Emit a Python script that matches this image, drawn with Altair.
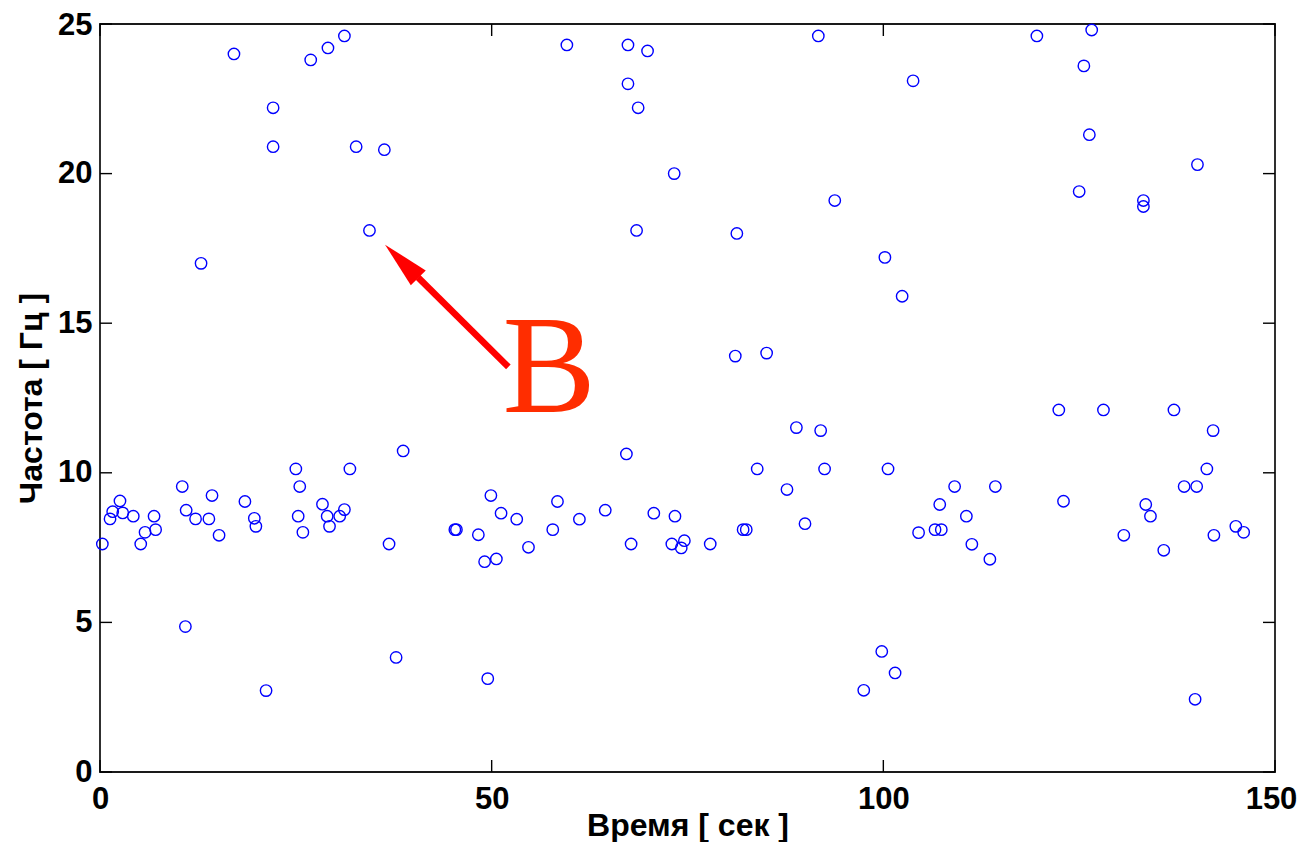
import altair as alt
import pandas as pd

# Scatter data (time in seconds, frequency in Hz)
time_s = [
    17.1, 26.9, 29.1, 31.2, 22.1, 22.1, 32.7, 36.3, 34.4, 12.9,
    59.6, 67.4, 69.9, 67.4, 68.7, 73.3, 91.7, 93.8, 68.5, 81.3,
    119.6, 126.6, 103.8, 125.6, 126.3, 140.1, 125.0, 133.2, 133.2, 100.2,
    102.4, 81.1, 85.1,
    38.7, 25.0, 31.9, 10.5, 25.5, 14.3, 18.5, 2.55, 28.4, 1.62,
    2.9, 1.28, 4.25, 6.9, 11.0, 12.2, 13.9, 19.7, 19.9, 25.3,
    29.0, 31.2, 30.6, 29.3, 25.9, 7.1, 5.75, 15.2, 0.3, 5.2,
    36.9, 45.3, 45.5, 48.3, 49.1, 49.9, 10.9, 37.8, 21.2, 49.5,
    67.2, 88.9, 92.0, 83.9, 92.5, 87.7, 51.2, 53.2, 58.4, 57.8,
    61.2, 64.5, 70.7, 73.4, 90.0, 54.7, 67.8, 73.0, 74.6, 74.2,
    77.9, 82.1, 82.5, 50.6, 97.5, 99.8,
    100.6, 109.1, 114.3, 107.2, 110.6, 104.5, 106.6, 107.4, 111.3, 113.6,
    122.4, 128.1, 137.1, 142.1, 141.3, 138.4, 140.0, 123.0, 133.5, 134.1,
    130.7, 135.8, 142.2, 145.0, 146.0, 101.5, 139.8,
]
freq_hz = [
    24.0, 23.8, 24.2, 24.6, 22.2, 20.9, 20.9, 20.8, 18.1, 17.0,
    24.3, 24.3, 24.1, 23.0, 22.2, 20.0, 24.6, 19.1, 18.1, 18.0,
    24.6, 24.8, 23.1, 23.6, 21.3, 20.3, 19.4, 19.1, 18.9, 17.2,
    15.9, 13.9, 14.0,
    10.73, 10.13, 10.13, 9.54, 9.54, 9.24, 9.04, 9.06, 8.95, 8.70,
    8.66, 8.46, 8.55, 8.55, 8.75, 8.46, 8.46, 8.48, 8.21, 8.55,
    8.55, 8.77, 8.55, 8.21, 8.01, 8.10, 8.01, 7.91, 7.62, 7.62,
    7.62, 8.10, 8.10, 7.93, 7.03, 9.24, 4.86, 3.83, 2.72, 3.12,
    10.63, 11.51, 11.41, 10.13, 10.13, 9.44, 8.65, 8.45, 9.04, 8.10,
    8.45, 8.75, 8.65, 8.55, 8.30, 7.51, 7.62, 7.62, 7.73, 7.49,
    7.62, 8.10, 8.10, 7.12, 2.73, 4.03,
    10.13, 9.54, 9.54, 8.94, 8.55, 8.00, 8.10, 8.10, 7.61, 7.11,
    12.10, 12.10, 12.10, 11.41, 10.13, 9.54, 9.54, 9.05, 8.94, 8.55,
    7.91, 7.41, 7.91, 8.21, 8.01, 3.31, 2.43,
]

x_ticks = [0, 50, 100, 150]
y_ticks = [0, 5, 10, 15, 20, 25]

# Annotation "B" with an arrow (data coordinates)
arrow_x = [52.13, 40.6]
arrow_y = [13.54, 16.53]
arrow_head_x = [38.51]
arrow_head_y = [17.07]
label_text = ["B"]
label_x = [57.34]
label_y = [12.02]

W, H = 1175, 748
TICK = 12

df = pd.DataFrame({"t": time_s, "f": freq_hz})
xs = alt.Scale(domain=[0, 150], nice=False, zero=False)
ys = alt.Scale(domain=[0, 25], nice=False, zero=False)
x_axis = alt.Axis(
    values=x_ticks, title="Время [ сек ]", labelFlush=False,
    labelPadding=12, titleBaseline="alphabetic", titleY=63,
    labelOffset={"condition": {"test": "datum.value === 150", "value": -4}, "value": 0},
)
y_axis = alt.Axis(
    values=y_ticks, title="Частота [ Гц ]", labelFlush=False,
    labelPadding=8, titlePadding=9,
    labelOffset={"condition": {"test": "datum.value === 25", "value": 1.5}, "value": 0},
)


def X(field):
    return alt.X(field, scale=xs, axis=x_axis)


def Y(field):
    return alt.Y(field, scale=ys, axis=y_axis)


points = alt.Chart(df).mark_point(
    shape="circle", filled=False, color="#0000FF", size=130, strokeWidth=1.4, opacity=1
).encode(x=X("t:Q"), y=Y("f:Q"))

xt = pd.DataFrame({"t": x_ticks})
yt = pd.DataFrame({"f": y_ticks})
tick_style = dict(color="black", strokeWidth=1.4)

x_bottom = alt.Chart(xt).mark_rule(**tick_style).encode(
    x=X("t:Q"), y=alt.value(H), y2=alt.value(H - TICK))
x_top = alt.Chart(xt).mark_rule(**tick_style).encode(
    x=X("t:Q"), y=alt.value(0), y2=alt.value(TICK))
y_left = alt.Chart(yt).mark_rule(**tick_style).encode(
    y=Y("f:Q"), x=alt.value(0), x2=alt.value(TICK))
y_right = alt.Chart(yt).mark_rule(**tick_style).encode(
    y=Y("f:Q"), x=alt.value(W), x2=alt.value(W - TICK))

arrow_line = alt.Chart(pd.DataFrame({"t": arrow_x, "f": arrow_y})).mark_line(
    color="#FF0000", strokeWidth=6.5, strokeCap="butt"
).encode(x=X("t:Q"), y=Y("f:Q"))

arrow_head = alt.Chart(pd.DataFrame({"t": arrow_head_x, "f": arrow_head_y})).mark_point(
    shape="M0,-1L0.45,1L-0.45,1Z", filled=True, color="#FF0000", opacity=1,
    size=2209, angle=315, strokeWidth=0
).encode(x=X("t:Q"), y=Y("f:Q"))

label = alt.Chart(pd.DataFrame({"t": label_x, "f": label_y, "txt": label_text})).mark_text(
    font="Liberation Serif", fontSize=140, color="#FF2D00", align="center",
    baseline="alphabetic"
).encode(x=X("t:Q"), y=Y("f:Q"), text="txt:N")

chart = alt.layer(
    points, x_bottom, x_top, y_left, y_right, arrow_line, arrow_head, label
).properties(
    width=W, height=H,
    autosize=alt.AutoSizeParams(type="none"),
    padding={"left": 92, "top": 16, "right": 23, "bottom": 70},
).configure_view(
    stroke="#1a1a1a", strokeWidth=1.8
).configure_axis(
    domain=False, ticks=False, grid=False,
    labelFont="Liberation Sans", labelFontWeight="bold", labelFontSize=31, labelColor="black",
    titleFont="Liberation Sans", titleFontWeight="bold", titleFontSize=32, titleColor="black",
)

chart.save("out.html", embed_options={"renderer": "svg", "actions": False})
